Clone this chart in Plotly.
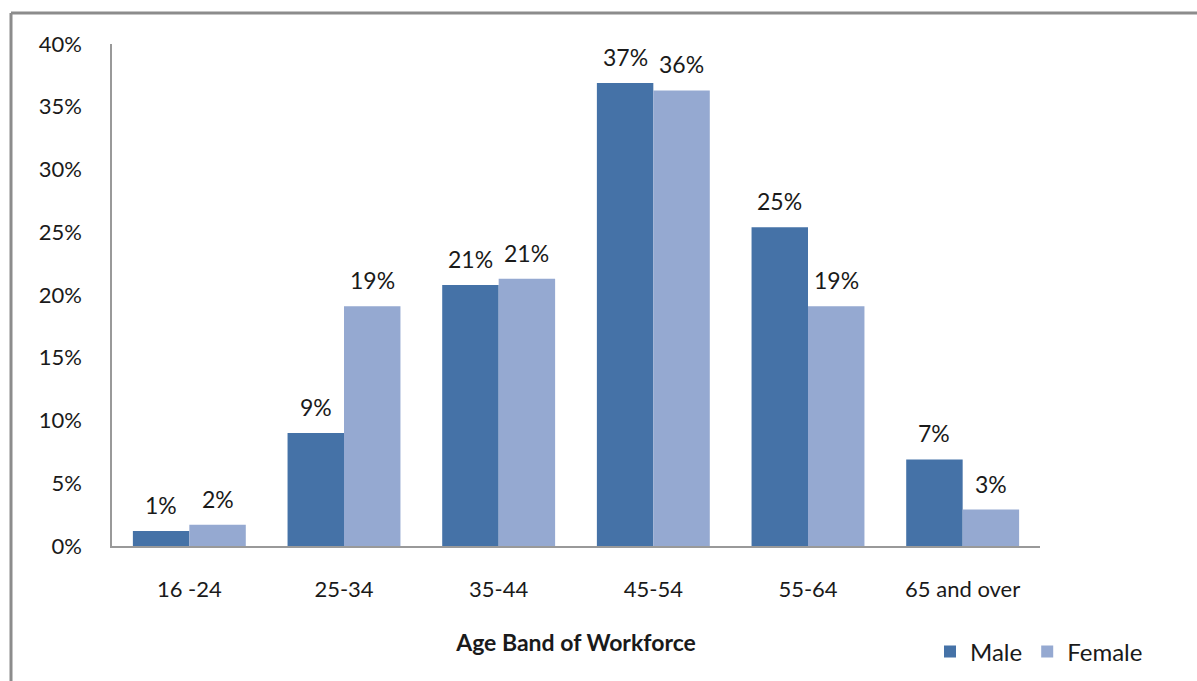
import plotly.graph_objects as go

age_bands = ["16 -24", "25-34", "35-44", "45-54", "55-64", "65 and over"]
male = [0.012, 0.090, 0.208, 0.369, 0.254, 0.069]
female = [0.017, 0.191, 0.213, 0.363, 0.191, 0.029]
y_ticks = [0, 0.05, 0.10, 0.15, 0.20, 0.25, 0.30, 0.35, 0.40]

MALE_COLOR = "#4572A7"
FEMALE_COLOR = "#95A9D1"
FONT = "Lato, 'Open Sans', sans-serif"
TEXT = "#1a1a1a"

W, H = 1197, 681
L, R, T, B = 112, 157, 44, 135
plot_w = W - L - R
plot_h = H - T - B

fig = go.Figure()
fig.add_trace(go.Bar(name="Male", x=age_bands, y=male, marker_color=MALE_COLOR,
                     marker_line_width=0))
fig.add_trace(go.Bar(name="Female", x=age_bands, y=female, marker_color=FEMALE_COLOR,
                     marker_line_width=0))

# value labels above each bar
bar_px = plot_w / len(age_bands) * 0.73 / 2
for series, shift in ((male, -bar_px / 2), (female, bar_px / 2)):
    for cat, v in zip(age_bands, series):
        fig.add_annotation(x=cat, y=v, text=f"{v:.0%}", showarrow=False,
                           xshift=shift, yshift=26, yanchor="middle",
                           font=dict(size=23, color=TEXT, family=FONT))

# outer frame (only left and top edges fall inside the page)
fx0 = (11 - L) / plot_w
fy1 = 1 + (T - 13) / plot_h
fig.add_shape(type="line", xref="paper", yref="paper", x0=fx0, x1=fx0,
              y0=-1, y1=fy1, line=dict(color="#8c8c8c", width=3))
fig.add_shape(type="line", xref="paper", yref="paper", x0=fx0, x1=2,
              y0=fy1, y1=fy1, line=dict(color="#8c8c8c", width=3))

fig.update_layout(
    width=W, height=H,
    margin=dict(l=L, r=R, t=T, b=B, pad=0, autoexpand=False),
    paper_bgcolor="white", plot_bgcolor="white",
    barmode="group", bargap=0.27, bargroupgap=0,
    font=dict(family=FONT, size=22, color=TEXT),
    showlegend=True,
    legend=dict(orientation="h", x=(930 - L) / plot_w, y=(546 - 652) / plot_h,
                xanchor="left", yanchor="middle", font=dict(size=24),
                itemwidth=30, tracegroupgap=0, bgcolor="rgba(0,0,0,0)"),
    xaxis=dict(showline=True, linecolor="#999999", linewidth=1.5,
               showgrid=False, ticks="", ticklabelstandoff=23,
               tickfont=dict(size=22), automargin=False,
               title=dict(text="<b>Age Band of Workforce</b>", standoff=34,
                          font=dict(size=23))),
    yaxis=dict(range=[0, 0.4], tickvals=y_ticks, tickformat=".0%",
               showline=True, linecolor="#999999", linewidth=1.5,
               showgrid=False, ticks="", ticklabelstandoff=24,
               tickfont=dict(size=22), zeroline=False, automargin=False),
)

fig.write_html("out.html")
